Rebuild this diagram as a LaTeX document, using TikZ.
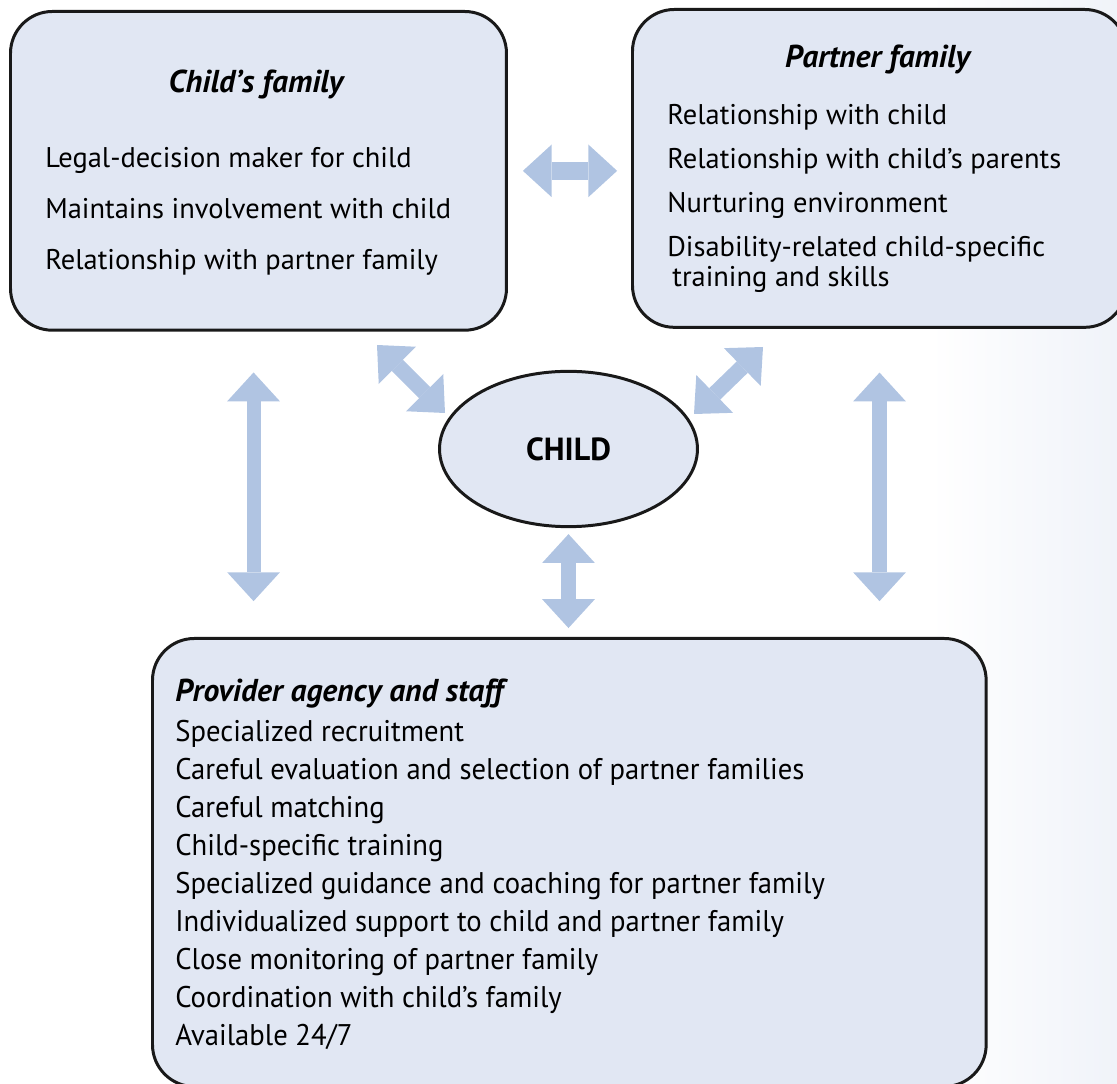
\documentclass[tikz,border=0pt]{standalone}
\usepackage{fontspec}
\setmainfont{PT Sans}
\newfontfamily\condfont[FakeStretch=0.96]{PT Sans}
\usetikzlibrary{arrows.meta,shapes.geometric}

\definecolor{boxfill}{HTML}{E1E7F3}
\definecolor{linkblue}{HTML}{B0C4E2}
\definecolor{edgefade}{HTML}{F0F3F9}

\tikzset{
  famblock/.style={draw=black!90, line width=1.7pt, fill=boxfill,
    rounded corners=23.8pt, inner sep=0pt, anchor=north west},
  childblob/.style={ellipse, draw=black!90, line width=1.7pt, fill=boxfill,
    minimum width=146.8pt, minimum height=88.4pt, inner sep=0pt,
    font=\fontsize{18.2}{21}\selectfont\bfseries},
  head/.style={inner sep=0pt, font=\fontsize{18}{21}\selectfont\bfseries\itshape},
  item/.style={inner sep=0pt, anchor=base west, font=\fontsize{16.2}{19}\selectfont},
  citem/.style={inner sep=0pt, anchor=base west, font=\condfont\fontsize{17}{19}\selectfont},
  link/.style={draw=linkblue, line width=9pt,
    {Triangle[width=30pt,length=16.4pt,line width=0pt]}-{Triangle[width=30pt,length=16.4pt,line width=0pt]}}
}

\begin{document}
\begin{tikzpicture}[x=0.02cm,y=-0.02cm]
\useasboundingbox (0,0) rectangle (1117,1084);
\shade[left color=white, right color=edgefade] (930,0) rectangle (1117,1084);

% boxes
\node[famblock, minimum width=282.3pt, minimum height=181.4pt] (cf) at (9,10) {};
\node[famblock, minimum width=281.2pt, minimum height=180.9pt] (pf) at (631,8) {};
\node[famblock, minimum width=474.5pt, minimum height=255pt] (pa) at (151,637) {};
\node[childblob] (child) at (568.5,449) {CHILD};

% child's family
\node[head, anchor=base] (cft) at (256,93) {Child’s family};
\foreach \t [count=\i] in {Legal-decision maker for child,
  Maintains involvement with child, Relationship with partner family}
  \node[item] (cf\i) at (45,117+51*\i) {\t};

% partner family
\node[head, anchor=base] (pft) at (877.5,68) {Partner family};
\foreach \t [count=\i] in {Relationship with child,
  Relationship with child’s parents, Nurturing environment,
  Disability-related child-specific}
  \node[item] (pf\i) at (667,81+44*\i) {\t};
\node[item] (pf5) at (672,287) {training and skills};

% provider agency
\node[head, anchor=base west] (pat) at (175,702) {Provider agency and staff};
\foreach \t [count=\i] in {Specialized recruitment,
  Careful evaluation and selection of partner families, Careful matching,
  Child-specific training, Specialized guidance and coaching for partner family,
  Individualized support to child and partner family,
  Close monitoring of partner family, Coordination with child’s family,
  Available 24/7}
  \node[citem] (pa\i) at (175,704.1+37.9*\i) {\t};

% links
\coordinate (dl1) at (377,345);
\coordinate (dl2) at (445,413);
\coordinate (dr1) at (763,347);
\coordinate (dr2) at (694,414);
\draw[link, line width=10.5pt, shorten <=8.5pt, shorten >=7.9pt] (cf.east) -- (cf.east -| pf.west);
\draw[link, line width=8pt, shorten <=23.2pt, shorten >=20.4pt] ([xshift=-2.8pt]cf.south) -- ([xshift=-2.8pt]cf.south |- pa.north);
\draw[link, line width=8pt, shorten <=24.9pt, shorten >=20.4pt] (pf.south) -- (pf.south |- pa.north);
\draw[link, shorten <=3.4pt, shorten >=5.1pt] (child.south) -- (child.south |- pa.north);
\draw[link] (dl1) -- (dl2);
\draw[link] (dr1) -- (dr2);
\end{tikzpicture}
\end{document}
